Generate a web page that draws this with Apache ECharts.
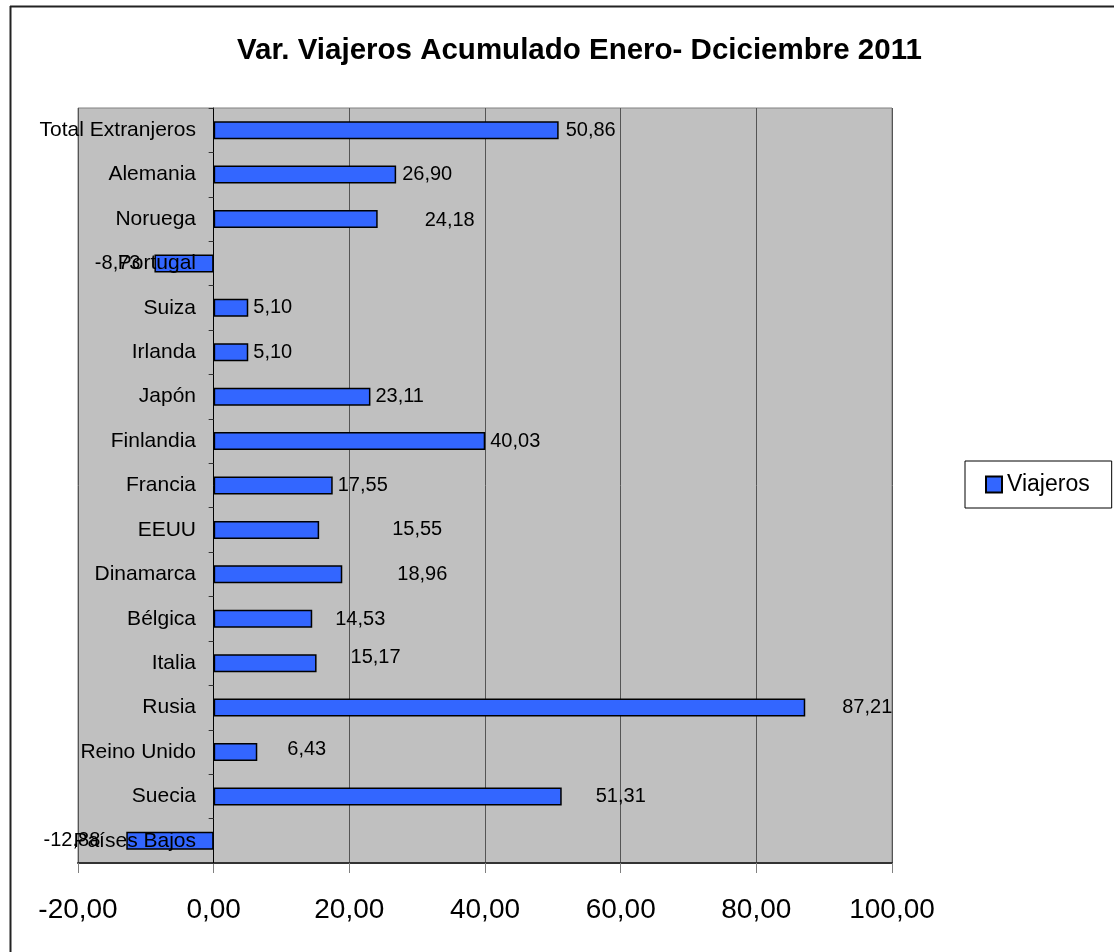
<!DOCTYPE html>
<html lang="es">
<head>
    <meta charset="UTF-8">
    <title>Var. Viajeros</title>
    <script src="https://cdn.jsdelivr.net/npm/echarts@6/dist/echarts.min.js"></script>
</head>
<body style="margin:0;background:#fff">
<div id="main" style="width:1114px;height:952px;"></div>
<script type="text/javascript">
    var myChart = echarts.init(document.getElementById('main'));

    // datos
    var paises = ['Total Extranjeros', 'Alemania', 'Noruega', 'Portugal', 'Suiza', 'Irlanda', 'Japón',
        'Finlandia', 'Francia', 'EEUU', 'Dinamarca', 'Bélgica', 'Italia', 'Rusia', 'Reino Unido',
        'Suecia', 'Países Bajos'];
    var viajeros = [50.86, 26.90, 24.18, -8.73, 5.10, 5.10, 23.11, 40.03, 17.55, 15.55, 18.96,
        14.53, 15.17, 87.21, 6.43, 51.31, -12.88];
    var ejeX = [-20, 0, 20, 40, 60, 80, 100];

    // separacion de las etiquetas (como quedaron movidas en Excel)
    var labelGap = [7, 6, 47, 14, 5, 5, 5, 5, 5, 73, 55, 23, 34, 37, 30, 34, 26];
    var labelDy = [0, 0, 1, 0, 0, 0, 0, 0, 0, 0, 0, 1, -6, 0, -2, 0, 0];

    function coma(v) {
        return v.toFixed(2).replace('.', ',');
    }

    var datos = [];
    for (var i = 0; i < paises.length; i++) {
        datos.push({
            value: viajeros[i],
            label: {
                position: viajeros[i] < 0 ? 'left' : 'right',
                distance: labelGap[i],
                offset: [0, labelDy[i]]
            }
        });
    }

    var fuente = 'Arial, "Liberation Sans", sans-serif';

    var option = {
        backgroundColor: '#fff',
        animation: false,
        title: {
            text: 'Var. Viajeros Acumulado Enero- Dciciembre 2011',
            left: 232,
            top: 31,
            textStyle: {fontFamily: fuente, fontSize: 29.5, fontWeight: 'bold', color: '#000'}
        },
        legend: {
            data: ['Viajeros'],
            left: 965,
            top: 461,
            orient: 'vertical',
            padding: [12, 22, 12, 20],
            borderColor: '#000',
            borderWidth: 1,
            backgroundColor: '#fff',
            itemWidth: 16,
            itemHeight: 16,
            itemGap: 6,
            icon: 'rect',
            textStyle: {fontFamily: fuente, fontSize: 23, color: '#000'}
        },
        grid: {
            left: 78,
            right: 222,
            top: 108,
            bottom: 89,
            show: true,
            backgroundColor: '#C0C0C0',
            borderColor: '#808080',
            borderWidth: 1,
            containLabel: false,
            outerBoundsMode: 'none'
        },
        xAxis: {
            type: 'value',
            min: ejeX[0],
            max: ejeX[ejeX.length - 1],
            interval: 20,
            axisLine: {show: true, lineStyle: {color: '#333', width: 2}},
            axisTick: {show: true, length: 10, lineStyle: {color: '#808080'}},
            axisLabel: {
                margin: 33,
                fontFamily: fuente,
                fontSize: 28,
                color: '#000',
                formatter: function (v) { return coma(v); }
            },
            splitLine: {show: true, lineStyle: {color: '#555', width: 1}}
        },
        yAxis: {
            type: 'category',
            data: paises,
            inverse: true,
            z: 5,
            axisLine: {show: true, onZero: true, lineStyle: {color: '#000', width: 1}},
            axisTick: {show: true, length: 5, lineStyle: {color: '#333'}},
            // las etiquetas quedan junto al cero, no al borde del grid
            axisLabel: {margin: -118, fontFamily: fuente, fontSize: 21, color: '#000'},
            splitLine: {show: false}
        },
        series: [{
            name: 'Viajeros',
            type: 'bar',
            barWidth: 18,
            data: datos,
            itemStyle: {color: '#3366FF', borderColor: '#000', borderWidth: 1.5},
            label: {
                show: true,
                fontFamily: fuente,
                fontSize: 20,
                color: '#000',
                formatter: function (p) { return coma(p.value); }
            },
            z: 2
        }],
        graphic: [
            {type: 'line', shape: {x1: 10, y1: 6.5, x2: 1114, y2: 6.5}, style: {stroke: '#222', lineWidth: 2}},
            {type: 'line', shape: {x1: 10.5, y1: 6, x2: 10.5, y2: 952}, style: {stroke: '#222', lineWidth: 2}}
        ]
    };

    myChart.setOption(option);
</script>
</body>
</html>
